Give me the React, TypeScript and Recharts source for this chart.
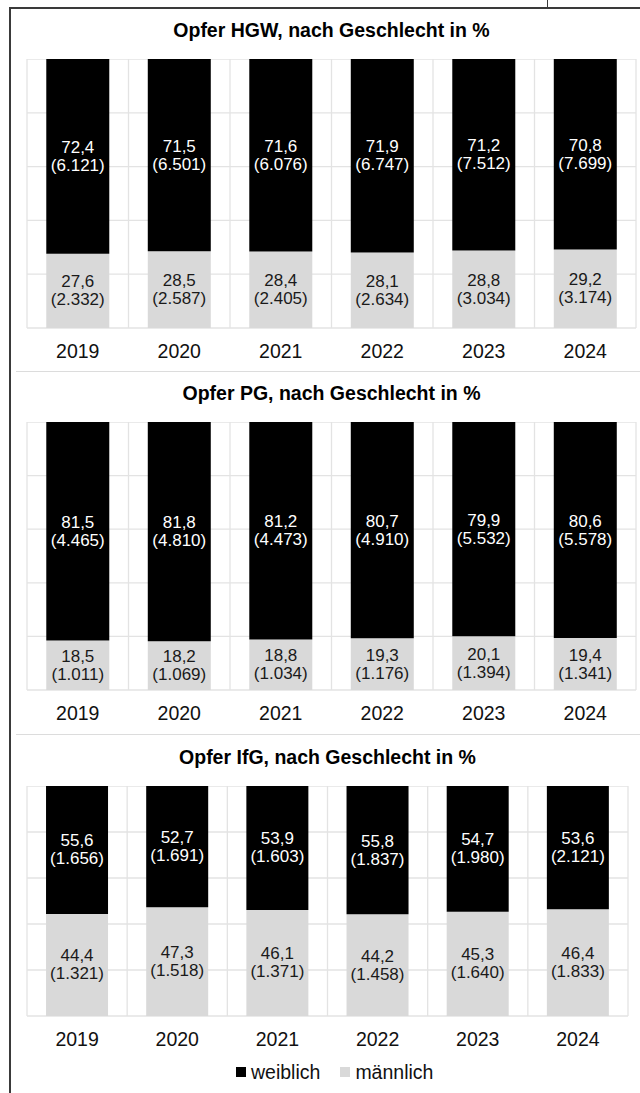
import React from 'react';
import { BarChart, Bar, XAxis, YAxis, CartesianGrid, LabelList } from 'recharts';

const years = ['2019', '2020', '2021', '2022', '2023', '2024'];

// Opfer HGW
const hgwWeiblich = [72.4, 71.5, 71.6, 71.9, 71.2, 70.8];
const hgwWeiblichN = [6121, 6501, 6076, 6747, 7512, 7699];
const hgwMaennlich = [27.6, 28.5, 28.4, 28.1, 28.8, 29.2];
const hgwMaennlichN = [2332, 2587, 2405, 2634, 3034, 3174];

// Opfer PG
const pgWeiblich = [81.5, 81.8, 81.2, 80.7, 79.9, 80.6];
const pgWeiblichN = [4465, 4810, 4473, 4910, 5532, 5578];
const pgMaennlich = [18.5, 18.2, 18.8, 19.3, 20.1, 19.4];
const pgMaennlichN = [1011, 1069, 1034, 1176, 1394, 1341];

// Opfer IfG
const ifgWeiblich = [55.6, 52.7, 53.9, 55.8, 54.7, 53.6];
const ifgWeiblichN = [1656, 1691, 1603, 1837, 1980, 2121];
const ifgMaennlich = [44.4, 47.3, 46.1, 44.2, 45.3, 46.4];
const ifgMaennlichN = [1321, 1518, 1371, 1458, 1640, 1833];

const yTicks = [0, 20, 40, 60, 80, 100];

const FONT = '"Liberation Sans", Arial, Helvetica, sans-serif';
const BLACK = '#000000';
const GRAY = '#d9d9d9';
const GRID = '#e3e3e3';

const fmtPct = (v: number) => v.toFixed(1).replace('.', ',');
const fmtCount = (n: number) => String(n).replace(/\B(?=(\d{3})+(?!\d))/g, '.');

function buildRows(w: number[], wN: number[], m: number[], mN: number[]) {
  return years.map((year, i) => ({
    year,
    weiblich: w[i],
    weiblichN: wN[i],
    maennlich: m[i],
    maennlichN: mN[i],
  }));
}

function segmentLabel(counts: number[], color: string) {
  return (props: any) => {
    const vb = props.viewBox ?? props;
    const x = Number(vb.x);
    const y = Number(vb.y);
    const w = Number(vb.width);
    const h = Number(vb.height);
    const cx = x + w / 2;
    const cy = y + h / 2;
    const i = props.index;
    const style = { fontFamily: FONT, fontSize: 17, fill: color };
    return (
      <g>
        <text x={cx} y={cy - 9} textAnchor="middle" dominantBaseline="central" style={style}>
          {fmtPct(Number(props.value))}
        </text>
        <text x={cx} y={cy + 9} textAnchor="middle" dominantBaseline="central" style={style}>
          ({fmtCount(counts[i])})
        </text>
      </g>
    );
  };
}

const YearTick = (props: any) => (
  <text
    x={props.x}
    y={props.y + 23}
    textAnchor="middle"
    dominantBaseline="central"
    style={{ fontFamily: FONT, fontSize: 19.5, fill: '#111' }}
  >
    {props.payload.value}
  </text>
);

interface PanelProps {
  title: string;
  titleY: number;
  top: number;
  plotHeight: number;
  right: number;
  w: number[];
  wN: number[];
  m: number[];
  mN: number[];
}

function Panel({ title, titleY, top, plotHeight, right, w, wN, m, mN }: PanelProps) {
  const rows = buildRows(w, wN, m, mN);
  const left = 27;
  return (
    <>
      <div
        style={{
          position: 'absolute',
          left,
          width: right - left,
          top: titleY - 12,
          height: 24,
          lineHeight: '24px',
          textAlign: 'center',
          fontFamily: FONT,
          fontWeight: 'bold',
          fontSize: 19.5,
          color: '#000',
        }}
      >
        {title}
      </div>
      <div style={{ position: 'absolute', left: 0, top }}>
        <BarChart
          width={640}
          height={plotHeight + 40}
          data={rows}
          margin={{ top: 0, right: 640 - right, bottom: 0, left }}
          barCategoryGap="19%"
        >
          <CartesianGrid
            stroke={GRID}
            strokeWidth={1.3}
            verticalCoordinatesGenerator={({ offset }: any) =>
              years.concat(['']).map((_, i) => offset.left + (i * offset.width) / years.length)
            }
          />
          <XAxis
            dataKey="year"
            axisLine={false}
            tickLine={false}
            tickSize={0}
            tickMargin={0}
            height={40}
            interval={0}
            tick={<YearTick />}
          />
          <YAxis hide type="number" domain={[0, 100]} ticks={yTicks} />
          <Bar dataKey="maennlich" stackId="a" fill={GRAY} isAnimationActive={false}>
            <LabelList dataKey="maennlich" content={segmentLabel(mN, '#1a1a1a')} />
          </Bar>
          <Bar dataKey="weiblich" stackId="a" fill={BLACK} isAnimationActive={false}>
            <LabelList dataKey="weiblich" content={segmentLabel(wN, '#ffffff')} />
          </Bar>
        </BarChart>
      </div>
    </>
  );
}

export default function App() {
  return (
    <div
      style={{
        position: 'absolute',
        left: 0,
        top: 0,
        width: 640,
        height: 1093,
        background: '#fff',
        overflow: 'hidden',
      }}
    >
      {/* frame */}
      <div style={{ position: 'absolute', left: 9, right: 0, top: 7, height: 2, background: '#3a3a3a' }} />
      <div style={{ position: 'absolute', left: 9, width: 2, top: 7, bottom: 0, background: '#3a3a3a' }} />
      <div style={{ position: 'absolute', left: 547, width: 1, top: 0, height: 8, background: '#3a3a3a' }} />
      {/* separators */}
      <div style={{ position: 'absolute', left: 16, right: 0, top: 371, height: 1, background: '#dcdcdc' }} />
      <div style={{ position: 'absolute', left: 16, right: 0, top: 734, height: 1, background: '#dcdcdc' }} />

      <Panel
        title="Opfer HGW, nach Geschlecht in %"
        titleY={30}
        top={59}
        plotHeight={269}
        right={636}
        w={hgwWeiblich}
        wN={hgwWeiblichN}
        m={hgwMaennlich}
        mN={hgwMaennlichN}
      />
      <Panel
        title="Opfer PG, nach Geschlecht in %"
        titleY={393}
        top={422}
        plotHeight={268}
        right={636}
        w={pgWeiblich}
        wN={pgWeiblichN}
        m={pgMaennlich}
        mN={pgMaennlichN}
      />
      <Panel
        title="Opfer IfG, nach Geschlecht in %"
        titleY={757}
        top={786}
        plotHeight={230}
        right={628}
        w={ifgWeiblich}
        wN={ifgWeiblichN}
        m={ifgMaennlich}
        mN={ifgMaennlichN}
      />

      {/* legend */}
      <div
        style={{
          position: 'absolute',
          left: 236,
          top: 1060,
          height: 24,
          display: 'flex',
          alignItems: 'center',
          fontFamily: FONT,
          fontSize: 19.5,
          color: '#111',
        }}
      >
        <span style={{ width: 10, height: 10, background: BLACK, display: 'inline-block', marginRight: 5 }} />
        <span>weiblich</span>
        <span style={{ width: 10, height: 10, background: GRAY, display: 'inline-block', marginLeft: 20, marginRight: 5 }} />
        <span>männlich</span>
      </div>
    </div>
  );
}
